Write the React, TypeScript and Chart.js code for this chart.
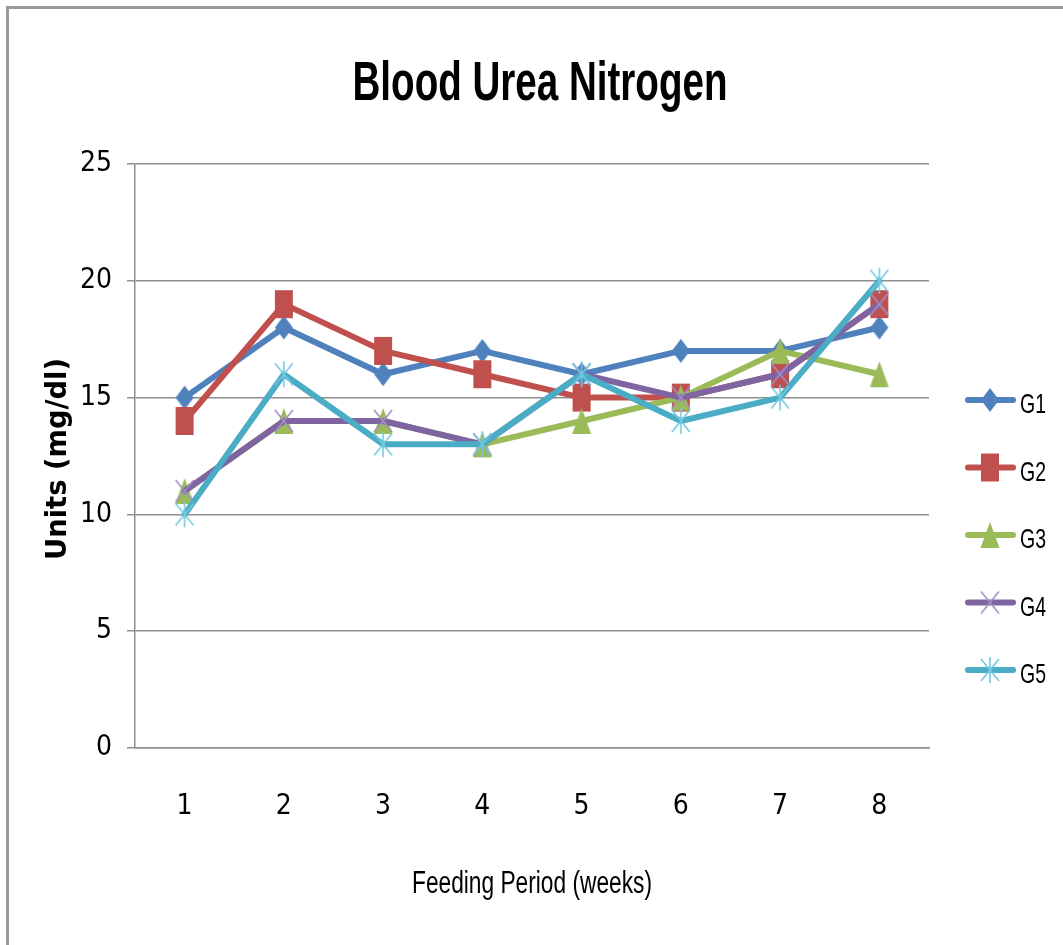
import React, { useEffect, useRef } from 'react';
import { Chart, registerables } from 'chart.js';

Chart.register(...registerables);

// ---- data ----
const weeks = ['1', '2', '3', '4', '5', '6', '7', '8'];
const seriesNames = ['G1', 'G2', 'G3', 'G4', 'G5'];
const g1 = [15, 18, 16, 17, 16, 17, 17, 18];
const g2 = [14, 19, 17, 16, 15, 15, 16, 19];
const g3 = [11, 14, 14, 13, 14, 15, 17, 16];
const g4 = [11, 14, 14, 13, 16, 15, 16, 19];
const g5 = [10, 16, 13, 13, 16, 14, 15, 20];
const yMin = 0;
const yMax = 25;
const yStep = 5;
const chartTitle = 'Blood Urea Nitrogen';
const xTitle = 'Feeding Period (weeks)';
const yTitle = 'Units (mg/dl)';

// ---- styles ----
const colors = ['#4F81BD', '#C0504D', '#9BBB59', '#8064A2', '#4BACC6'];
const markerColors = ['#4F81BD', '#C0504D', '#9BBB59', '#A28FC6', '#74C9E0'];
const markerKinds = ['diamond', 'square', 'triangle', 'x', 'star'];
const NARROW = "'Liberation Sans Narrow', 'DejaVu Sans Condensed', 'Liberation Sans', Arial, sans-serif";
const GRID = '#8E8E8E';

function makeMarker(kind: string, color: string): HTMLCanvasElement {
  const c = document.createElement('canvas');
  c.width = 22;
  c.height = 30;
  const ctx = c.getContext('2d')!;
  const cx = 11;
  const cy = 15;
  ctx.fillStyle = color;
  ctx.strokeStyle = color;
  ctx.beginPath();
  if (kind === 'diamond') {
    ctx.moveTo(cx, cy - 12);
    ctx.lineTo(cx + 9, cy);
    ctx.lineTo(cx, cy + 12);
    ctx.lineTo(cx - 9, cy);
    ctx.closePath();
    ctx.fill();
  } else if (kind === 'square') {
    ctx.rect(cx - 9, cy - 14, 18, 28);
    ctx.fill();
  } else if (kind === 'triangle') {
    ctx.moveTo(cx, cy - 13);
    ctx.lineTo(cx + 9.5, cy + 13);
    ctx.lineTo(cx - 9.5, cy + 13);
    ctx.closePath();
    ctx.fill();
  } else if (kind === 'x') {
    ctx.lineWidth = 1.6;
    ctx.moveTo(cx - 9, cy - 11);
    ctx.lineTo(cx + 9, cy + 11);
    ctx.moveTo(cx + 9, cy - 11);
    ctx.lineTo(cx - 9, cy + 11);
    ctx.stroke();
  } else {
    ctx.lineWidth = 1.6;
    ctx.moveTo(cx - 9, cy - 11);
    ctx.lineTo(cx + 9, cy + 11);
    ctx.moveTo(cx + 9, cy - 11);
    ctx.lineTo(cx - 9, cy + 11);
    ctx.moveTo(cx, cy - 13);
    ctx.lineTo(cx, cy + 13);
    ctx.stroke();
  }
  return c;
}

function drawFitted(
  ctx: CanvasRenderingContext2D,
  text: string,
  x: number,
  y: number,
  font: string,
  width: number,
  rot: number,
  align: CanvasTextAlign
) {
  ctx.save();
  ctx.font = font;
  const w = ctx.measureText(text).width;
  const sx = width / w;
  ctx.translate(x, y);
  ctx.rotate(rot);
  ctx.scale(sx, 1);
  ctx.textAlign = align;
  ctx.textBaseline = 'alphabetic';
  ctx.fillStyle = '#000';
  ctx.fillText(text, 0, 0);
  ctx.restore();
}

export default function App() {
  const ref = useRef<HTMLCanvasElement>(null);

  useEffect(() => {
    if (!ref.current) return;
    const markers = markerKinds.map((k, i) => makeMarker(k, markerColors[i]));
    const values = [g1, g2, g3, g4, g5];

    const decor = {
      id: 'decor',
      afterDraw(chart: any) {
        const ctx: CanvasRenderingContext2D = chart.ctx;
        drawFitted(ctx, chartTitle, 540, 100, "bold 55px 'Liberation Sans', Arial, sans-serif", 375, 0, 'center');
        drawFitted(ctx, xTitle, 532, 893, "31px 'Liberation Sans', Arial, sans-serif", 240, 0, 'center');
        drawFitted(ctx, yTitle, 66, 459, "bold 29px 'DejaVu Sans', Verdana, sans-serif", 202, -Math.PI / 2, 'center');
        // legend
        seriesNames.forEach((name, i) => {
          const ly = 400 + i * 67.5;
          ctx.save();
          ctx.strokeStyle = colors[i];
          ctx.lineWidth = 6;
          ctx.lineCap = 'round';
          ctx.beginPath();
          ctx.moveTo(968, ly);
          ctx.lineTo(1013, ly);
          ctx.stroke();
          const m = markers[i];
          ctx.drawImage(m, 990 - m.width / 2, ly - m.height / 2);
          ctx.restore();
          drawFitted(ctx, name, 1020, ly + 13, "28px 'Liberation Sans', Arial, sans-serif", 26, 0, 'left');
        });
      },
    };

    const chart = new Chart(ref.current, {
      type: 'line',
      data: {
        labels: weeks,
        datasets: seriesNames.map((name, i) => ({
          label: name,
          data: values[i],
          borderColor: colors[i],
          backgroundColor: colors[i],
          borderWidth: 6,
          borderJoinStyle: 'round' as const,
          borderCapStyle: 'round' as const,
          pointStyle: markers[i] as any,
          pointRadius: 10,
          pointHoverRadius: 10,
          tension: 0,
          fill: false,
          order: seriesNames.length - i,
        })),
      },
      options: {
        animation: false,
        responsive: false,
        devicePixelRatio: 1,
        events: [],
        layout: { padding: { top: 164, right: 134, left: 0, bottom: 0 } },
        plugins: {
          legend: { display: false },
          title: { display: false },
          tooltip: { enabled: false },
        },
        scales: {
          x: {
            type: 'category',
            offset: true,
            afterFit: (s: any) => {
              s.height = 197;
            },
            grid: { display: false, drawTicks: false },
            border: { display: true, color: GRID, width: 1.5 },
            ticks: {
              color: '#000',
              padding: 42,
              font: { family: NARROW, size: 28 },
              maxRotation: 0,
            },
          },
          y: {
            min: yMin,
            max: yMax,
            afterFit: (s: any) => {
              s.width = 135;
            },
            grid: { color: GRID, lineWidth: 1.5, drawTicks: true, tickLength: 8 },
            border: { display: true, color: GRID, width: 1.5 },
            ticks: {
              stepSize: yStep,
              color: '#000',
              padding: 15,
              font: { family: NARROW, size: 28 },
            },
          },
        },
      },
      plugins: [decor],
    });
    return () => chart.destroy();
  }, []);

  return (
    <div
      style={{
        position: 'absolute',
        left: 0,
        top: 0,
        width: 1063,
        height: 945,
        overflow: 'hidden',
        background: '#fff',
      }}
    >
      <div
        style={{
          position: 'absolute',
          left: 6,
          top: 6,
          width: 1057,
          height: 939,
          boxSizing: 'border-box',
          borderTop: '3px solid #9A9A9A',
          borderLeft: '3px solid #9A9A9A',
        }}
      />
      <canvas
        ref={ref}
        width={1063}
        height={945}
        style={{ position: 'absolute', left: 0, top: 0, display: 'block' }}
      />
    </div>
  );
}
